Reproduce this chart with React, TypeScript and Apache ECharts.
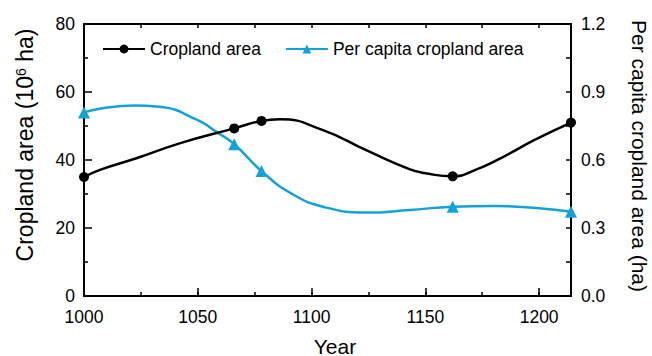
import React, { useEffect, useRef } from "react";
import * as echarts from "echarts";

// Total cropland area (10^6 ha)
const cropYears = [1000, 1007, 1023, 1042, 1066, 1078, 1086, 1105, 1124, 1143, 1150, 1162, 1172, 1183, 1198, 1214];
const cropArea = [35.0, 37.1, 40.5, 44.9, 49.3, 51.5, 52.0, 48.8, 42.9, 37.3, 36.1, 35.2, 37.1, 40.5, 45.9, 51.0];

// Per capita cropland area (ha)
const perCapitaYears = [1000, 1008, 1022, 1033, 1050, 1058, 1066, 1078, 1091, 1105, 1124, 1143, 1162, 1180, 1200, 1214];
const perCapitaArea = [0.81, 0.828, 0.84, 0.835, 0.776, 0.725, 0.67, 0.551, 0.453, 0.394, 0.368, 0.379, 0.394, 0.397, 0.387, 0.372];

// Years with recorded estimates (drawn with markers)
const recordYears = [1000, 1066, 1078, 1162, 1214];

const xMin = 1000;
const xMax = 1214;
const xTickLabels = [1000, 1050, 1100, 1150, 1200];

const FONT = "Liberation Sans, Arial, Helvetica, sans-serif";
const BLUE = "#12a2d8";

function buildData(xs: number[], ys: number[], symbol: string) {
  return xs.map((x, i) => ({
    value: [x, ys[i]],
    symbol: recordYears.includes(x) ? symbol : "none",
  }));
}

export default function App() {
  const ref = useRef<HTMLDivElement>(null);

  useEffect(() => {
    if (!ref.current) return;
    const chart = echarts.init(ref.current, undefined, { renderer: "svg" });
    const axisLine = { show: true, lineStyle: { color: "#000", width: 2 } };
    const hiddenLabel = { show: false };
    const tickStyle = { color: "#000", width: 1.5 };

    chart.setOption({
      animation: false,
      backgroundColor: "#fff",
      textStyle: { fontFamily: FONT },
      grid: { left: 84, right: 81, top: 24, bottom: 60, containLabel: false },
      legend: {
        left: 102,
        top: 40,
        padding: 0,
        itemWidth: 42,
        itemHeight: 11,
        itemGap: 24,
        textStyle: { fontSize: 17.5, color: "#000", fontFamily: FONT },
        data: ["Cropland area", "Per capita cropland area"],
      },
      graphic: [
        {
          type: "text",
          x: 25,
          y: 145,
          rotation: Math.PI / 2,
          style: {
            text: "{n|Cropland area (10}{s|6}{n| ha)}",
            align: "center",
            verticalAlign: "middle",
            fill: "#000",
            rich: {
              n: { fontSize: 23, fill: "#000", fontFamily: FONT },
              s: { fontSize: 14, fill: "#000", fontFamily: FONT, verticalAlign: "top", padding: [0, 0, 9, 0] },
            },
          },
        },
        {
          type: "text",
          x: 639,
          y: 156,
          rotation: -Math.PI / 2,
          style: {
            text: "Per capita cropland area (ha)",
            align: "center",
            verticalAlign: "middle",
            fill: "#000",
            font: `21px ${FONT}`,
          },
        },
        {
          type: "text",
          x: 335,
          y: 346,
          style: {
            text: "Year",
            align: "center",
            verticalAlign: "middle",
            fill: "#000",
            font: `21px ${FONT}`,
          },
        },
      ],
      xAxis: [
        {
          type: "value",
          position: "bottom",
          min: xMin,
          max: xMax,
          interval: 50,
          axisLine,
          axisTick: { inside: true, length: 8, lineStyle: tickStyle },
          axisLabel: {
            fontSize: 17.5,
            color: "#000",
            margin: 12,
            formatter: (v: number) => (xTickLabels.includes(v) ? String(v) : ""),
          },
          splitLine: { show: false },
        },
        {
          type: "value",
          position: "bottom",
          min: xMin,
          max: xMax,
          interval: 25,
          axisLine: { show: false },
          axisTick: { inside: true, length: 4, lineStyle: tickStyle },
          axisLabel: hiddenLabel,
          splitLine: { show: false },
        },
        {
          type: "value",
          position: "top",
          min: xMin,
          max: xMax,
          interval: 25,
          axisLine,
          axisTick: { inside: true, length: 4, lineStyle: tickStyle },
          axisLabel: hiddenLabel,
          splitLine: { show: false },
        },
      ],
      yAxis: [
        {
          type: "value",
          position: "left",
          min: 0,
          max: 80,
          interval: 20,
          axisLine,
          axisTick: { inside: true, length: 8, lineStyle: tickStyle },
          minorTick: { show: true, splitNumber: 2, length: 4, lineStyle: tickStyle },
          axisLabel: { fontSize: 17.5, color: "#000", margin: 9, padding: [0, 0, 8, 0] },
          splitLine: { show: false },
        },
        {
          type: "value",
          position: "right",
          min: 0,
          max: 1.2,
          interval: 0.3,
          axisLine,
          axisTick: { inside: true, length: 5, lineStyle: tickStyle },
          minorTick: { show: true, splitNumber: 2, length: 5, lineStyle: tickStyle },
          axisLabel: {
            fontSize: 17.5,
            color: "#000",
            margin: 10,
            padding: [0, 0, 8, 0],
            formatter: (v: number) => v.toFixed(1),
          },
          splitLine: { show: false },
        },
      ],
      series: [
        {
          name: "Cropland area",
          type: "line",
          xAxisIndex: 0,
          yAxisIndex: 0,
          smooth: 0.5,
          symbol: "circle",
          symbolSize: 10,
          showAllSymbol: true,
          lineStyle: { color: "#000", width: 2.5 },
          itemStyle: { color: "#000" },
          data: buildData(cropYears, cropArea, "circle"),
          z: 3,
        },
        {
          name: "Per capita cropland area",
          type: "line",
          xAxisIndex: 0,
          yAxisIndex: 1,
          smooth: 0.5,
          symbol: "triangle",
          symbolSize: 12,
          showAllSymbol: true,
          lineStyle: { color: BLUE, width: 2.5 },
          itemStyle: { color: BLUE },
          data: buildData(perCapitaYears, perCapitaArea, "triangle"),
          z: 2,
        },
      ],
    });

    return () => chart.dispose();
  }, []);

  return <div ref={ref} style={{ width: 652, height: 356, position: "absolute", left: 0, top: 0 }} />;
}
